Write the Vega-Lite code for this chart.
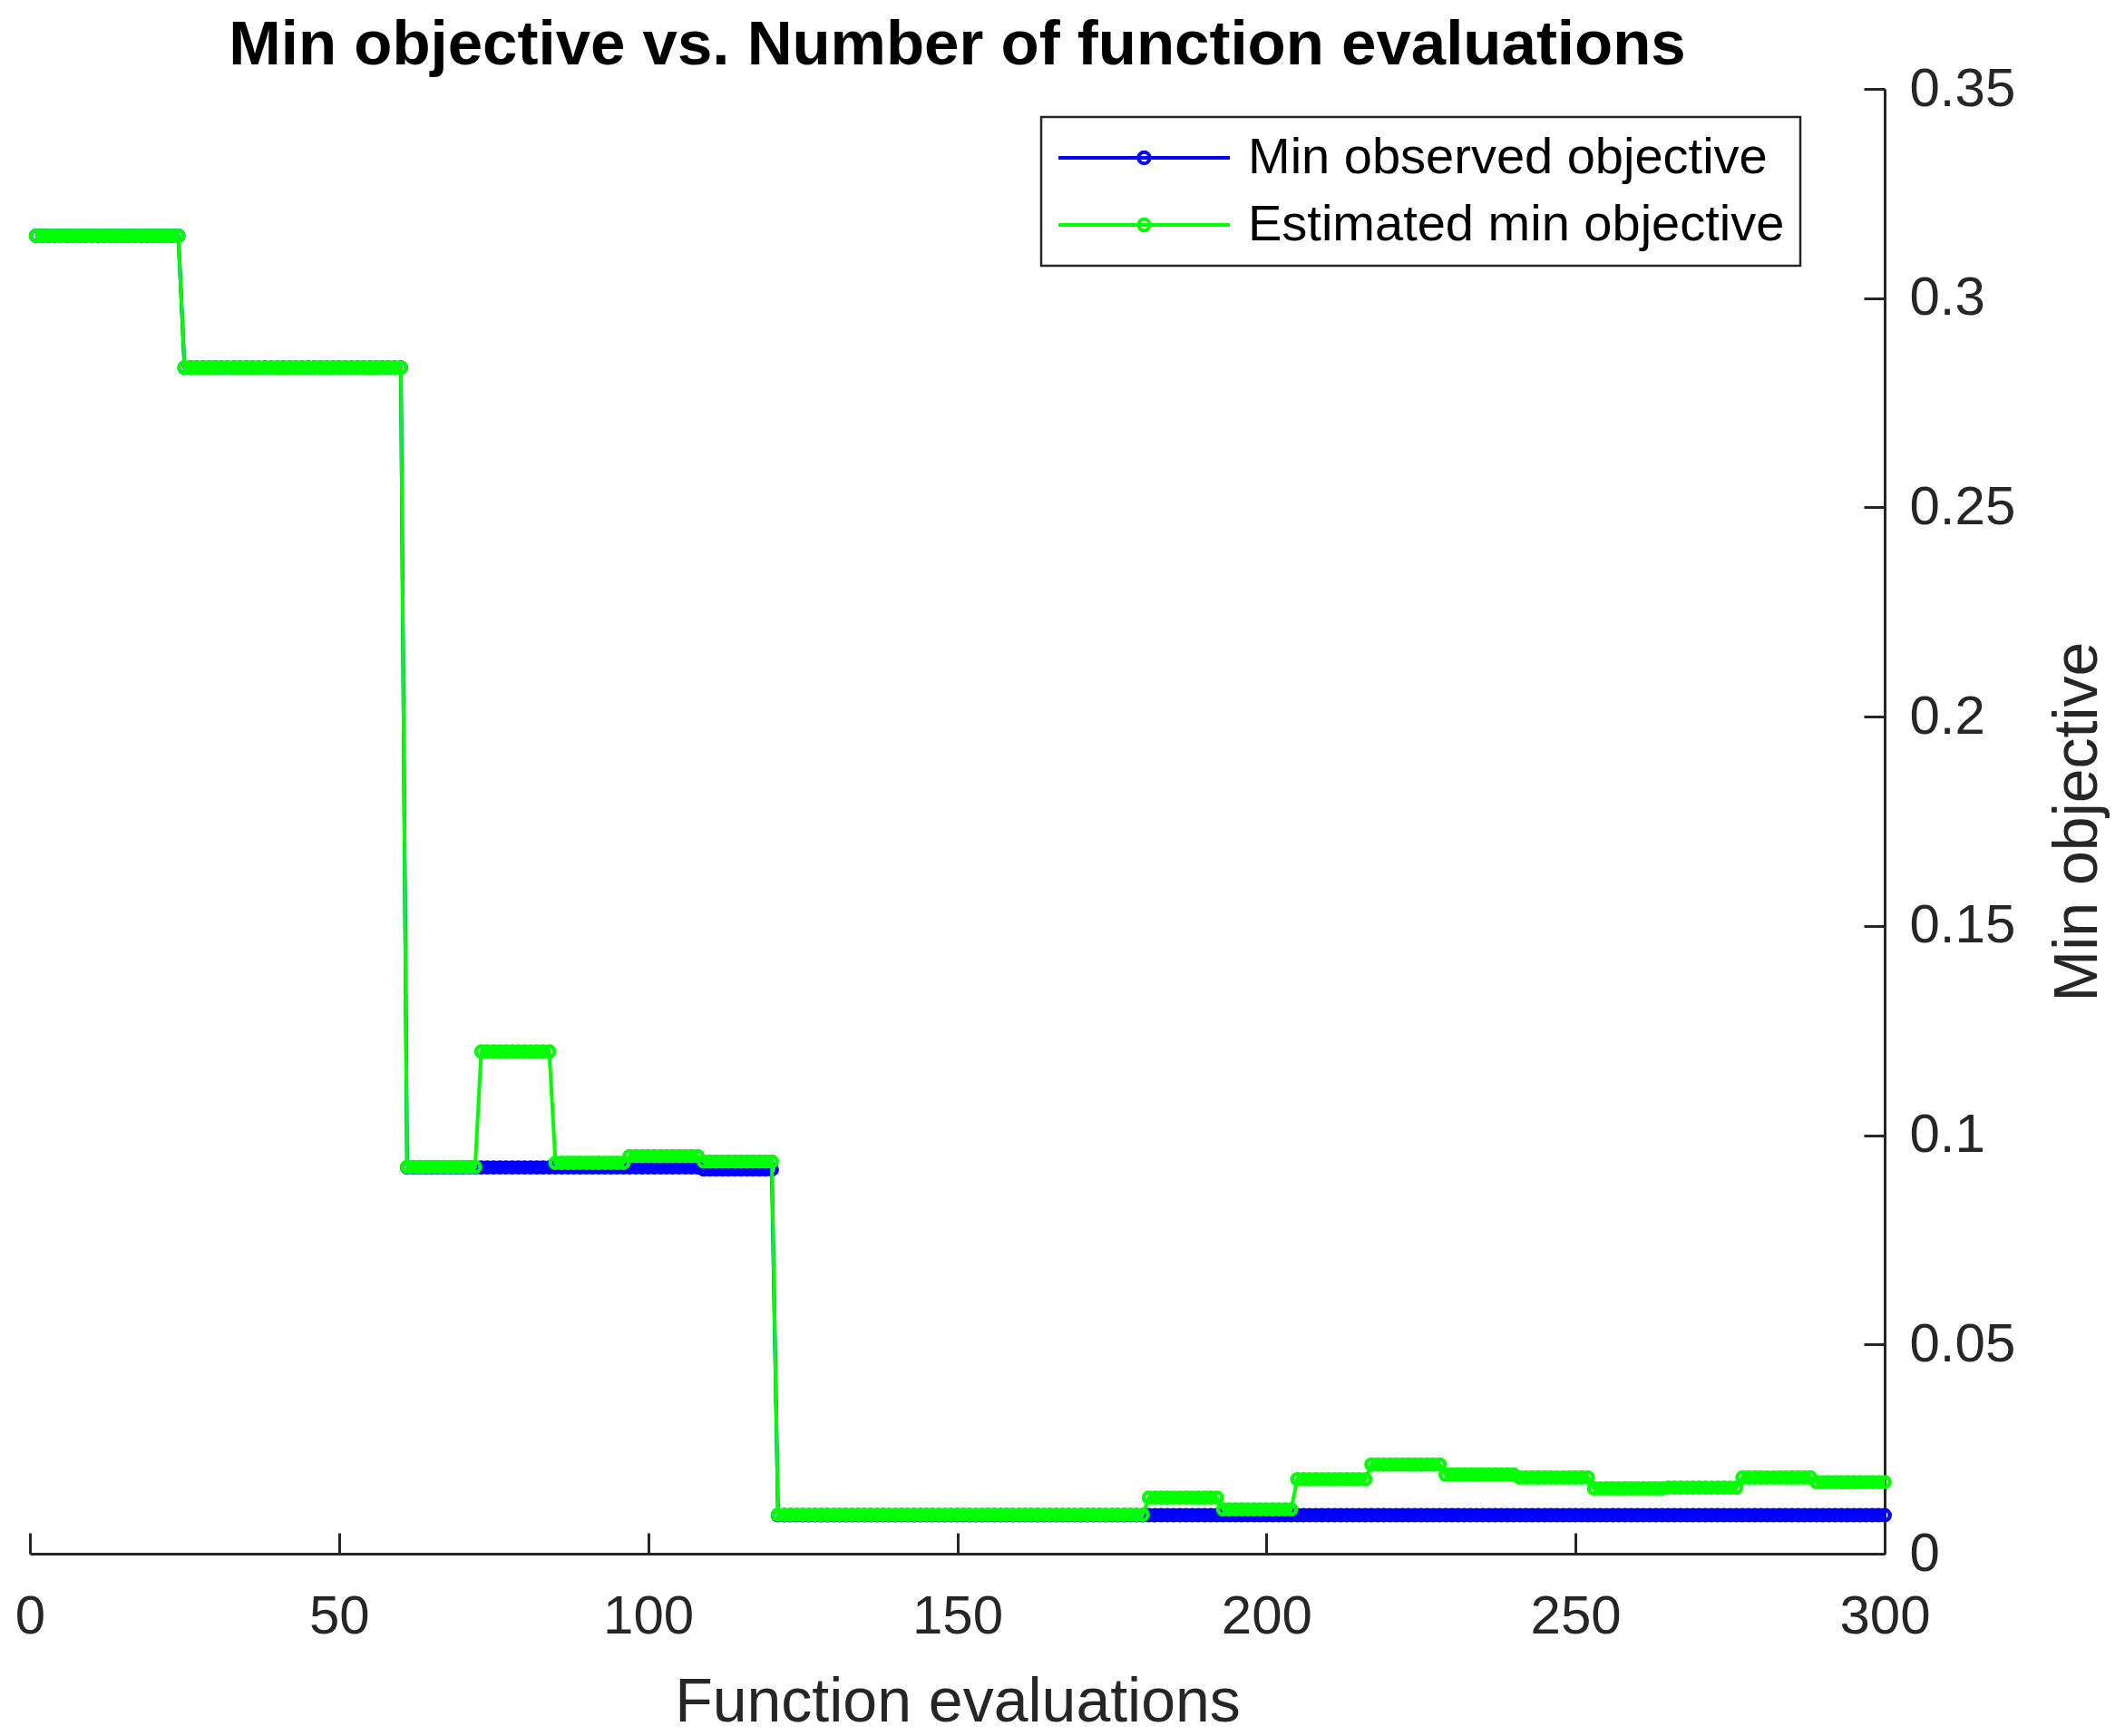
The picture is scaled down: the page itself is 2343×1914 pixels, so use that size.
{
 "$schema": "https://vega.github.io/schema/vega-lite/v6.json",
 "width": 2045,
 "height": 1615,
 "autosize": {"type": "none"},
 "padding": {"left": 33, "top": 98, "right": 265, "bottom": 201},
 "background": "white",
 "title": {"text": "Min objective vs. Number of function evaluations", "font": "Liberation Sans", "fontSize": 69, "fontWeight": "bold", "color": "#000000", "anchor": "middle", "frame": "group", "baseline": "alphabetic", "offset": -72},
 "config": {"view": {"stroke": null}, "legend": {"strokeWidth": 2.5}},
 "data": {"values": [
{"n":1,"b":0.3149,"g":0.3149},{"n":2,"b":0.3149,"g":0.3149},{"n":3,"b":0.3149,"g":0.3149},{"n":4,"b":0.3149,"g":0.3149},{"n":5,"b":0.3149,"g":0.3149},{"n":6,"b":0.3149,"g":0.3149},{"n":7,"b":0.3149,"g":0.3149},{"n":8,"b":0.3149,"g":0.3149},{"n":9,"b":0.3149,"g":0.3149},{"n":10,"b":0.3149,"g":0.3149},
{"n":11,"b":0.3149,"g":0.3149},{"n":12,"b":0.3149,"g":0.3149},{"n":13,"b":0.3149,"g":0.3149},{"n":14,"b":0.3149,"g":0.3149},{"n":15,"b":0.3149,"g":0.3149},{"n":16,"b":0.3149,"g":0.3149},{"n":17,"b":0.3149,"g":0.3149},{"n":18,"b":0.3149,"g":0.3149},{"n":19,"b":0.3149,"g":0.3149},{"n":20,"b":0.3149,"g":0.3149},
{"n":21,"b":0.3149,"g":0.3149},{"n":22,"b":0.3149,"g":0.3149},{"n":23,"b":0.3149,"g":0.3149},{"n":24,"b":0.3149,"g":0.3149},{"n":25,"b":0.2834,"g":0.2834},{"n":26,"b":0.2834,"g":0.2834},{"n":27,"b":0.2834,"g":0.2834},{"n":28,"b":0.2834,"g":0.2834},{"n":29,"b":0.2834,"g":0.2834},{"n":30,"b":0.2834,"g":0.2834},
{"n":31,"b":0.2834,"g":0.2834},{"n":32,"b":0.2834,"g":0.2834},{"n":33,"b":0.2834,"g":0.2834},{"n":34,"b":0.2834,"g":0.2834},{"n":35,"b":0.2834,"g":0.2834},{"n":36,"b":0.2834,"g":0.2834},{"n":37,"b":0.2834,"g":0.2834},{"n":38,"b":0.2834,"g":0.2834},{"n":39,"b":0.2834,"g":0.2834},{"n":40,"b":0.2834,"g":0.2834},
{"n":41,"b":0.2834,"g":0.2834},{"n":42,"b":0.2834,"g":0.2834},{"n":43,"b":0.2834,"g":0.2834},{"n":44,"b":0.2834,"g":0.2834},{"n":45,"b":0.2834,"g":0.2834},{"n":46,"b":0.2834,"g":0.2834},{"n":47,"b":0.2834,"g":0.2834},{"n":48,"b":0.2834,"g":0.2834},{"n":49,"b":0.2834,"g":0.2834},{"n":50,"b":0.2834,"g":0.2834},
{"n":51,"b":0.2834,"g":0.2834},{"n":52,"b":0.2834,"g":0.2834},{"n":53,"b":0.2834,"g":0.2834},{"n":54,"b":0.2834,"g":0.2834},{"n":55,"b":0.2834,"g":0.2834},{"n":56,"b":0.2834,"g":0.2834},{"n":57,"b":0.2834,"g":0.2834},{"n":58,"b":0.2834,"g":0.2834},{"n":59,"b":0.2834,"g":0.2834},{"n":60,"b":0.2834,"g":0.2834},
{"n":61,"b":0.0923,"g":0.0924},{"n":62,"b":0.0923,"g":0.0924},{"n":63,"b":0.0923,"g":0.0924},{"n":64,"b":0.0923,"g":0.0924},{"n":65,"b":0.0923,"g":0.0924},{"n":66,"b":0.0923,"g":0.0924},{"n":67,"b":0.0923,"g":0.0924},{"n":68,"b":0.0923,"g":0.0924},{"n":69,"b":0.0923,"g":0.0924},{"n":70,"b":0.0923,"g":0.0924},
{"n":71,"b":0.0923,"g":0.0924},{"n":72,"b":0.0923,"g":0.0924},{"n":73,"b":0.0923,"g":0.12},{"n":74,"b":0.0923,"g":0.12},{"n":75,"b":0.0923,"g":0.12},{"n":76,"b":0.0923,"g":0.12},{"n":77,"b":0.0923,"g":0.12},{"n":78,"b":0.0923,"g":0.12},{"n":79,"b":0.0923,"g":0.12},{"n":80,"b":0.0923,"g":0.12},
{"n":81,"b":0.0923,"g":0.12},{"n":82,"b":0.0923,"g":0.12},{"n":83,"b":0.0923,"g":0.12},{"n":84,"b":0.0923,"g":0.12},{"n":85,"b":0.0923,"g":0.0934},{"n":86,"b":0.0923,"g":0.0934},{"n":87,"b":0.0923,"g":0.0934},{"n":88,"b":0.0923,"g":0.0934},{"n":89,"b":0.0923,"g":0.0934},{"n":90,"b":0.0923,"g":0.0934},
{"n":91,"b":0.0923,"g":0.0934},{"n":92,"b":0.0923,"g":0.0934},{"n":93,"b":0.0923,"g":0.0934},{"n":94,"b":0.0923,"g":0.0934},{"n":95,"b":0.0923,"g":0.0934},{"n":96,"b":0.0923,"g":0.0934},{"n":97,"b":0.0923,"g":0.095},{"n":98,"b":0.0923,"g":0.095},{"n":99,"b":0.0923,"g":0.095},{"n":100,"b":0.0923,"g":0.095},
{"n":101,"b":0.0923,"g":0.095},{"n":102,"b":0.0923,"g":0.095},{"n":103,"b":0.0923,"g":0.095},{"n":104,"b":0.0923,"g":0.095},{"n":105,"b":0.0923,"g":0.095},{"n":106,"b":0.0923,"g":0.095},{"n":107,"b":0.0923,"g":0.095},{"n":108,"b":0.0923,"g":0.095},{"n":109,"b":0.0918,"g":0.0937},{"n":110,"b":0.0918,"g":0.0937},
{"n":111,"b":0.0918,"g":0.0937},{"n":112,"b":0.0918,"g":0.0937},{"n":113,"b":0.0918,"g":0.0937},{"n":114,"b":0.0918,"g":0.0937},{"n":115,"b":0.0918,"g":0.0937},{"n":116,"b":0.0918,"g":0.0937},{"n":117,"b":0.0918,"g":0.0937},{"n":118,"b":0.0918,"g":0.0937},{"n":119,"b":0.0918,"g":0.0937},{"n":120,"b":0.0918,"g":0.0937},
{"n":121,"b":0.0092,"g":0.0093},{"n":122,"b":0.0092,"g":0.0093},{"n":123,"b":0.0092,"g":0.0093},{"n":124,"b":0.0092,"g":0.0093},{"n":125,"b":0.0092,"g":0.0093},{"n":126,"b":0.0092,"g":0.0093},{"n":127,"b":0.0092,"g":0.0093},{"n":128,"b":0.0092,"g":0.0093},{"n":129,"b":0.0092,"g":0.0093},{"n":130,"b":0.0092,"g":0.0093},
{"n":131,"b":0.0092,"g":0.0093},{"n":132,"b":0.0092,"g":0.0093},{"n":133,"b":0.0092,"g":0.0093},{"n":134,"b":0.0092,"g":0.0093},{"n":135,"b":0.0092,"g":0.0093},{"n":136,"b":0.0092,"g":0.0093},{"n":137,"b":0.0092,"g":0.0093},{"n":138,"b":0.0092,"g":0.0093},{"n":139,"b":0.0092,"g":0.0093},{"n":140,"b":0.0092,"g":0.0093},
{"n":141,"b":0.0092,"g":0.0093},{"n":142,"b":0.0092,"g":0.0093},{"n":143,"b":0.0092,"g":0.0093},{"n":144,"b":0.0092,"g":0.0093},{"n":145,"b":0.0092,"g":0.0093},{"n":146,"b":0.0092,"g":0.0093},{"n":147,"b":0.0092,"g":0.0093},{"n":148,"b":0.0092,"g":0.0093},{"n":149,"b":0.0092,"g":0.0093},{"n":150,"b":0.0092,"g":0.0093},
{"n":151,"b":0.0092,"g":0.0093},{"n":152,"b":0.0092,"g":0.0093},{"n":153,"b":0.0092,"g":0.0093},{"n":154,"b":0.0092,"g":0.0093},{"n":155,"b":0.0092,"g":0.0093},{"n":156,"b":0.0092,"g":0.0093},{"n":157,"b":0.0092,"g":0.0093},{"n":158,"b":0.0092,"g":0.0093},{"n":159,"b":0.0092,"g":0.0093},{"n":160,"b":0.0092,"g":0.0093},
{"n":161,"b":0.0092,"g":0.0093},{"n":162,"b":0.0092,"g":0.0093},{"n":163,"b":0.0092,"g":0.0093},{"n":164,"b":0.0092,"g":0.0093},{"n":165,"b":0.0092,"g":0.0093},{"n":166,"b":0.0092,"g":0.0093},{"n":167,"b":0.0092,"g":0.0093},{"n":168,"b":0.0092,"g":0.0093},{"n":169,"b":0.0092,"g":0.0093},{"n":170,"b":0.0092,"g":0.0093},
{"n":171,"b":0.0092,"g":0.0093},{"n":172,"b":0.0092,"g":0.0093},{"n":173,"b":0.0092,"g":0.0093},{"n":174,"b":0.0092,"g":0.0093},{"n":175,"b":0.0092,"g":0.0093},{"n":176,"b":0.0092,"g":0.0093},{"n":177,"b":0.0092,"g":0.0093},{"n":178,"b":0.0092,"g":0.0093},{"n":179,"b":0.0092,"g":0.0093},{"n":180,"b":0.0092,"g":0.0093},
{"n":181,"b":0.0092,"g":0.0134},{"n":182,"b":0.0092,"g":0.0134},{"n":183,"b":0.0092,"g":0.0134},{"n":184,"b":0.0092,"g":0.0134},{"n":185,"b":0.0092,"g":0.0134},{"n":186,"b":0.0092,"g":0.0134},{"n":187,"b":0.0092,"g":0.0134},{"n":188,"b":0.0092,"g":0.0134},{"n":189,"b":0.0092,"g":0.0134},{"n":190,"b":0.0092,"g":0.0134},
{"n":191,"b":0.0092,"g":0.0134},{"n":192,"b":0.0092,"g":0.0134},{"n":193,"b":0.0092,"g":0.0106},{"n":194,"b":0.0092,"g":0.0106},{"n":195,"b":0.0092,"g":0.0106},{"n":196,"b":0.0092,"g":0.0106},{"n":197,"b":0.0092,"g":0.0106},{"n":198,"b":0.0092,"g":0.0106},{"n":199,"b":0.0092,"g":0.0106},{"n":200,"b":0.0092,"g":0.0106},
{"n":201,"b":0.0092,"g":0.0106},{"n":202,"b":0.0092,"g":0.0106},{"n":203,"b":0.0092,"g":0.0106},{"n":204,"b":0.0092,"g":0.0106},{"n":205,"b":0.0092,"g":0.0178},{"n":206,"b":0.0092,"g":0.0178},{"n":207,"b":0.0092,"g":0.0178},{"n":208,"b":0.0092,"g":0.0178},{"n":209,"b":0.0092,"g":0.0178},{"n":210,"b":0.0092,"g":0.0178},
{"n":211,"b":0.0092,"g":0.0178},{"n":212,"b":0.0092,"g":0.0178},{"n":213,"b":0.0092,"g":0.0178},{"n":214,"b":0.0092,"g":0.0178},{"n":215,"b":0.0092,"g":0.0178},{"n":216,"b":0.0092,"g":0.0178},{"n":217,"b":0.0092,"g":0.0213},{"n":218,"b":0.0092,"g":0.0213},{"n":219,"b":0.0092,"g":0.0213},{"n":220,"b":0.0092,"g":0.0213},
{"n":221,"b":0.0092,"g":0.0213},{"n":222,"b":0.0092,"g":0.0213},{"n":223,"b":0.0092,"g":0.0213},{"n":224,"b":0.0092,"g":0.0213},{"n":225,"b":0.0092,"g":0.0213},{"n":226,"b":0.0092,"g":0.0213},{"n":227,"b":0.0092,"g":0.0213},{"n":228,"b":0.0092,"g":0.0213},{"n":229,"b":0.0092,"g":0.0189},{"n":230,"b":0.0092,"g":0.0189},
{"n":231,"b":0.0092,"g":0.0189},{"n":232,"b":0.0092,"g":0.0189},{"n":233,"b":0.0092,"g":0.0189},{"n":234,"b":0.0092,"g":0.0189},{"n":235,"b":0.0092,"g":0.0189},{"n":236,"b":0.0092,"g":0.0189},{"n":237,"b":0.0092,"g":0.0189},{"n":238,"b":0.0092,"g":0.0189},{"n":239,"b":0.0092,"g":0.0189},{"n":240,"b":0.0092,"g":0.0189},
{"n":241,"b":0.0092,"g":0.0182},{"n":242,"b":0.0092,"g":0.0182},{"n":243,"b":0.0092,"g":0.0182},{"n":244,"b":0.0092,"g":0.0182},{"n":245,"b":0.0092,"g":0.0182},{"n":246,"b":0.0092,"g":0.0182},{"n":247,"b":0.0092,"g":0.0182},{"n":248,"b":0.0092,"g":0.0182},{"n":249,"b":0.0092,"g":0.0182},{"n":250,"b":0.0092,"g":0.0182},
{"n":251,"b":0.0092,"g":0.0182},{"n":252,"b":0.0092,"g":0.0182},{"n":253,"b":0.0092,"g":0.0156},{"n":254,"b":0.0092,"g":0.0156},{"n":255,"b":0.0092,"g":0.0156},{"n":256,"b":0.0092,"g":0.0156},{"n":257,"b":0.0092,"g":0.0156},{"n":258,"b":0.0092,"g":0.0156},{"n":259,"b":0.0092,"g":0.0156},{"n":260,"b":0.0092,"g":0.0156},
{"n":261,"b":0.0092,"g":0.0156},{"n":262,"b":0.0092,"g":0.0156},{"n":263,"b":0.0092,"g":0.0156},{"n":264,"b":0.0092,"g":0.0156},{"n":265,"b":0.0092,"g":0.0158},{"n":266,"b":0.0092,"g":0.0158},{"n":267,"b":0.0092,"g":0.0158},{"n":268,"b":0.0092,"g":0.0158},{"n":269,"b":0.0092,"g":0.0158},{"n":270,"b":0.0092,"g":0.0158},
{"n":271,"b":0.0092,"g":0.0158},{"n":272,"b":0.0092,"g":0.0158},{"n":273,"b":0.0092,"g":0.0158},{"n":274,"b":0.0092,"g":0.0158},{"n":275,"b":0.0092,"g":0.0158},{"n":276,"b":0.0092,"g":0.0158},{"n":277,"b":0.0092,"g":0.0182},{"n":278,"b":0.0092,"g":0.0182},{"n":279,"b":0.0092,"g":0.0182},{"n":280,"b":0.0092,"g":0.0182},
{"n":281,"b":0.0092,"g":0.0182},{"n":282,"b":0.0092,"g":0.0182},{"n":283,"b":0.0092,"g":0.0182},{"n":284,"b":0.0092,"g":0.0182},{"n":285,"b":0.0092,"g":0.0182},{"n":286,"b":0.0092,"g":0.0182},{"n":287,"b":0.0092,"g":0.0182},{"n":288,"b":0.0092,"g":0.0182},{"n":289,"b":0.0092,"g":0.0171},{"n":290,"b":0.0092,"g":0.0171},
{"n":291,"b":0.0092,"g":0.0171},{"n":292,"b":0.0092,"g":0.0171},{"n":293,"b":0.0092,"g":0.0171},{"n":294,"b":0.0092,"g":0.0171},{"n":295,"b":0.0092,"g":0.0171},{"n":296,"b":0.0092,"g":0.0171},{"n":297,"b":0.0092,"g":0.0171},{"n":298,"b":0.0092,"g":0.0171},{"n":299,"b":0.0092,"g":0.0171},{"n":300,"b":0.0092,"g":0.0171}
 ]},
 "encoding": {
  "x": {"field": "n", "type": "quantitative", "scale": {"domain": [0, 300], "nice": false, "zero": false},
   "axis": {"title": "Function evaluations", "values": [0, 50, 100, 150, 200, 250, 300], "grid": false, "tickSize": -23, "tickWidth": 3, "tickColor": "#262626", "domainWidth": 3, "domainColor": "#262626", "labelFont": "Liberation Sans", "labelFontSize": 60, "labelColor": "#262626", "labelPadding": 63, "labelFlush": false, "labelOverlap": false, "titleFont": "Liberation Sans", "titleFontSize": 68, "titleFontWeight": "normal", "titleColor": "#262626", "titlePadding": 31}}
 },
 "layer": [
  {"mark": {"type": "line", "strokeWidth": 4, "point": {"filled": false, "size": 130, "strokeWidth": 4.5}},
   "encoding": {
    "y": {"field": "b", "type": "quantitative", "scale": {"domain": [0, 0.35], "nice": false},
     "axis": {"orient": "right", "title": "Min objective", "values": [0, 0.05, 0.1, 0.15, 0.2, 0.25, 0.3, 0.35], "format": "~g", "grid": false, "tickSize": -23, "tickWidth": 3, "tickColor": "#262626", "domainWidth": 3, "domainColor": "#262626", "labelFont": "Liberation Sans", "labelFontSize": 60, "labelColor": "#262626", "labelPadding": 50, "labelFlush": false, "labelOverlap": false, "labelAlign": "left", "titleFont": "Liberation Sans", "titleFontSize": 68, "titleFontWeight": "normal", "titleColor": "#262626", "titleAngle": 270, "titleBaseline": "top", "titlePadding": 36}},
    "color": {"datum": "Min observed objective", "type": "nominal",
     "scale": {"domain": ["Min observed objective", "Estimated min objective"], "range": ["#0000ff", "#00ff00"]},
     "legend": {"orient": "none", "legendX": 1115, "legendY": 31, "title": null, "symbolType": "M-1,0L1,0M-0.066,0A0.066,0.066,0,1,1,0.066,0A0.066,0.066,0,1,1,-0.066,0Z", "symbolSize": 35721, "symbolStrokeWidth": 4, "symbolFillColor": "transparent", "clipHeight": 56, "labelFont": "Liberation Sans", "labelFontSize": 56, "labelColor": "#000000", "labelOffset": 18, "labelLimit": 1000, "padding": 17, "rowPadding": 18, "fillColor": "white", "strokeColor": "#262626"}}
   }},
  {"mark": {"type": "line", "strokeWidth": 4, "point": {"filled": false, "size": 130, "strokeWidth": 4.5}},
   "encoding": {
    "y": {"field": "g", "type": "quantitative", "scale": {"domain": [0, 0.35], "nice": false},
     "axis": {"orient": "right", "title": "Min objective", "values": [0, 0.05, 0.1, 0.15, 0.2, 0.25, 0.3, 0.35], "format": "~g", "grid": false, "tickSize": -23, "tickWidth": 3, "tickColor": "#262626", "domainWidth": 3, "domainColor": "#262626", "labelFont": "Liberation Sans", "labelFontSize": 60, "labelColor": "#262626", "labelPadding": 50, "labelFlush": false, "labelOverlap": false, "labelAlign": "left", "titleFont": "Liberation Sans", "titleFontSize": 68, "titleFontWeight": "normal", "titleColor": "#262626", "titleAngle": 270, "titleBaseline": "top", "titlePadding": 36}},
    "color": {"datum": "Estimated min objective", "type": "nominal"}
   }}
 ]
}
